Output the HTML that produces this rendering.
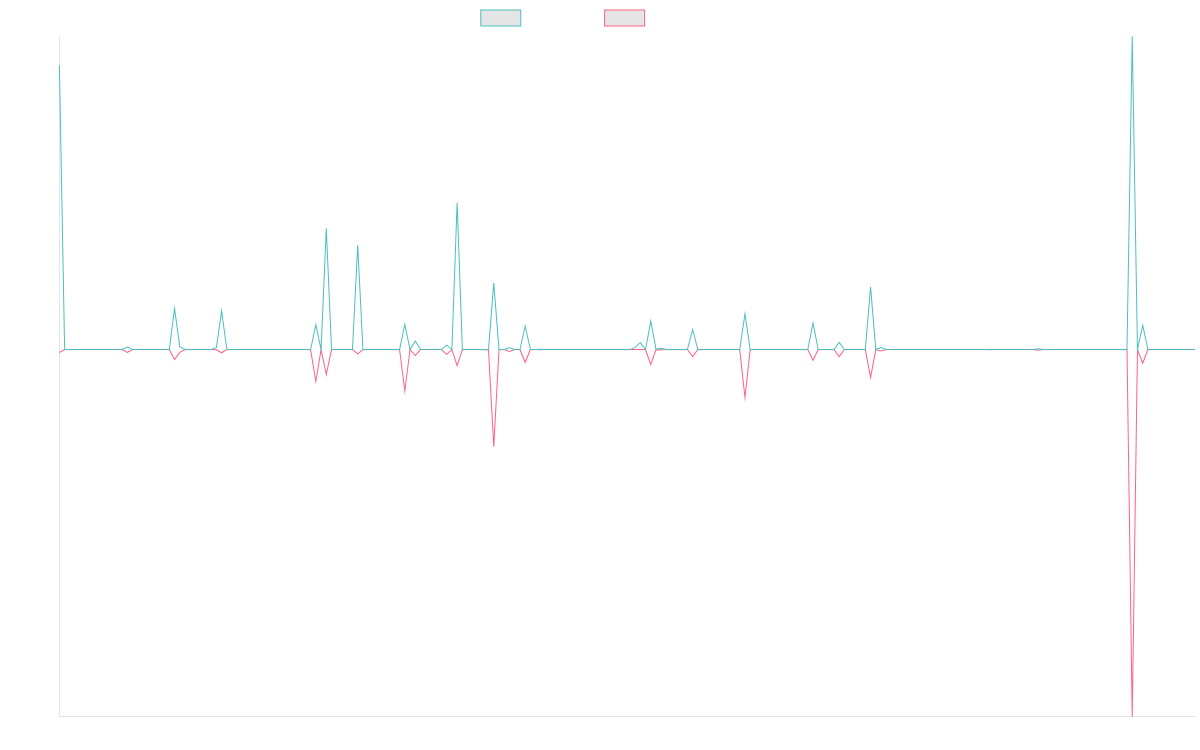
<!DOCTYPE html>
<html lang="en">
<head>
<meta charset="utf-8">
<title>Line chart</title>
<style>
html,body{margin:0;padding:0;background:#fff;}
body{width:1200px;height:750px;overflow:hidden;font-family:"Liberation Sans",sans-serif;}
svg{display:block;position:absolute;left:0;top:0;}
</style>
</head>
<body>
<svg width="1200" height="750" viewBox="0 0 1200 750" role="img" aria-label="Line chart with two datasets">
<defs><clipPath id="ca"><rect x="58.90" y="35.5" width="1136.63" height="681.5"/></clipPath></defs>
<rect width="1200" height="750" fill="#fff"/>
<g fill="#e5e5e5" stroke-width="1">
<rect x="480.75" y="10" width="40" height="16" stroke="#4bc0c0"/>
<rect x="604.58" y="10" width="40" height="16" stroke="#ff6384"/>
</g>
<g stroke="#e5e5e5" stroke-width="1" fill="none">
<line x1="59.5" y1="36" x2="59.5" y2="716.5"/>
<line x1="59" y1="716.5" x2="1196" y2="716.5"/>
</g>
<g fill="none" stroke-width="1.01" stroke-linejoin="miter" stroke-miterlimit="10" stroke-linecap="butt" clip-path="url(#ca)">
<g fill="#ff6384" stroke="none">
<rect x="64.63" y="349.06" width="57.57" height="1"/>
<rect x="132.67" y="349.06" width="36.63" height="1"/>
<rect x="185.00" y="349.06" width="26.17" height="1"/>
<rect x="226.87" y="349.06" width="83.73" height="1"/>
<rect x="331.53" y="349.06" width="20.93" height="1"/>
<rect x="362.93" y="349.06" width="36.63" height="1"/>
<rect x="420.50" y="349.06" width="20.93" height="1"/>
<rect x="462.37" y="349.06" width="20.93" height="1"/>
<rect x="499.00" y="349.06" width="5.23" height="1"/>
<rect x="514.70" y="349.06" width="5.23" height="1"/>
<rect x="530.40" y="349.06" width="5.23" height="1"/>
<rect x="546.10" y="349.06" width="99.43" height="1"/>
<rect x="666.46" y="349.06" width="20.93" height="1"/>
<rect x="697.86" y="349.06" width="41.87" height="1"/>
<rect x="750.20" y="349.06" width="57.57" height="1"/>
<rect x="818.23" y="349.06" width="15.70" height="1"/>
<rect x="844.40" y="349.06" width="20.93" height="1"/>
<rect x="886.26" y="349.06" width="99.43" height="1"/>
<rect x="996.16" y="349.06" width="36.63" height="1"/>
<rect x="1043.26" y="349.06" width="83.73" height="1"/>
<rect x="1147.93" y="349.06" width="47.10" height="1"/>
</g>
<g stroke="#ff6384">
<polyline points="59.40,352.50 64.63,349.56 66.13,349.56"/>
<polyline points="120.70,349.56 122.20,349.56 127.43,352.40 132.67,349.56 134.17,349.56"/>
<polyline points="167.80,349.56 169.30,349.56 174.53,359.50 179.77,352.40 185.00,349.56 186.50,349.56"/>
<polyline points="209.67,349.56 211.17,349.56 216.40,349.70 221.63,352.80 226.87,349.56 228.37,349.56"/>
<polyline points="309.10,349.56 310.60,349.56 315.83,381.50 321.07,349.56 326.30,374.60 331.53,349.56 333.03,349.56"/>
<polyline points="350.97,349.56 352.47,349.56 357.70,353.80 362.93,349.56 364.43,349.56"/>
<polyline points="398.07,349.56 399.57,349.56 404.80,391.00 410.03,349.56 415.27,355.50 420.50,349.56 422.00,349.56"/>
<polyline points="439.93,349.56 441.43,349.56 446.67,354.40 451.90,349.56 457.13,365.60 462.37,349.56 463.87,349.56"/>
<polyline points="481.80,349.56 483.30,349.56 488.53,350.10 493.77,446.80 499.00,349.56 500.50,349.56"/>
<polyline points="502.73,349.56 504.23,349.56 509.47,351.50 514.70,349.56 516.20,349.56"/>
<polyline points="518.43,349.56 519.93,349.56 525.17,362.30 530.40,349.56 531.90,349.56"/>
<polyline points="534.13,349.56 535.63,349.56 540.87,349.85 546.10,349.56 547.60,349.56"/>
<polyline points="644.03,349.56 645.53,349.56 650.76,364.40 656.00,349.65 661.23,350.10 666.46,349.56 667.96,349.56"/>
<polyline points="685.90,349.56 687.40,349.56 692.63,356.60 697.86,349.56 699.36,349.56"/>
<polyline points="738.23,349.56 739.73,349.56 744.96,397.50 750.20,349.56 751.70,349.56"/>
<polyline points="806.26,349.56 807.76,349.56 813.00,360.30 818.23,349.56 819.73,349.56"/>
<polyline points="832.43,349.56 833.93,349.56 839.16,356.60 844.40,349.56 845.90,349.56"/>
<polyline points="863.83,349.56 865.33,349.56 870.56,377.40 875.80,349.56 881.03,350.90 886.26,349.56 887.76,349.56"/>
<polyline points="984.20,349.56 985.70,349.56 990.93,349.85 996.16,349.56 997.66,349.56"/>
<polyline points="1031.30,349.56 1032.80,349.56 1038.03,350.35 1043.26,349.56 1044.76,349.56"/>
<polyline points="1125.50,349.56 1127.00,349.56 1132.23,716.75 1137.46,349.56 1142.70,363.30 1147.93,349.56 1149.43,349.56"/>
</g>
<g fill="#4bc0c0" stroke="none">
<rect x="64.63" y="349.06" width="57.57" height="1"/>
<rect x="132.67" y="349.06" width="36.63" height="1"/>
<rect x="185.00" y="349.06" width="26.17" height="1"/>
<rect x="226.87" y="349.06" width="83.73" height="1"/>
<rect x="331.53" y="349.06" width="20.93" height="1"/>
<rect x="362.93" y="349.06" width="36.63" height="1"/>
<rect x="420.50" y="349.06" width="20.93" height="1"/>
<rect x="462.37" y="349.06" width="20.93" height="1"/>
<rect x="499.00" y="349.06" width="5.23" height="1"/>
<rect x="514.70" y="349.06" width="5.23" height="1"/>
<rect x="530.40" y="349.06" width="5.23" height="1"/>
<rect x="546.10" y="349.06" width="83.73" height="1"/>
<rect x="666.46" y="349.06" width="20.93" height="1"/>
<rect x="697.86" y="349.06" width="41.87" height="1"/>
<rect x="750.20" y="349.06" width="57.57" height="1"/>
<rect x="818.23" y="349.06" width="15.70" height="1"/>
<rect x="844.40" y="349.06" width="20.93" height="1"/>
<rect x="886.26" y="349.06" width="99.43" height="1"/>
<rect x="996.16" y="349.06" width="36.63" height="1"/>
<rect x="1043.26" y="349.06" width="83.73" height="1"/>
<rect x="1147.93" y="349.06" width="47.10" height="1"/>
</g>
<g stroke="#4bc0c0">
<polyline points="59.40,65.50 64.63,349.56 66.13,349.56"/>
<polyline points="120.70,349.56 122.20,349.56 127.43,347.00 132.67,349.56 134.17,349.56"/>
<polyline points="167.80,349.56 169.30,349.56 174.53,308.40 179.77,346.60 185.00,349.56 186.50,349.56"/>
<polyline points="209.67,349.56 211.17,349.56 216.40,347.60 221.63,311.00 226.87,349.56 228.37,349.56"/>
<polyline points="309.10,349.56 310.60,349.56 315.83,324.70 321.07,349.56 326.30,228.20 331.53,349.56 333.03,349.56"/>
<polyline points="350.97,349.56 352.47,349.56 357.70,245.20 362.93,349.56 364.43,349.56"/>
<polyline points="398.07,349.56 399.57,349.56 404.80,324.50 410.03,349.56 415.27,341.00 420.50,349.56 422.00,349.56"/>
<polyline points="439.93,349.56 441.43,349.56 446.67,345.10 451.90,349.56 457.13,202.80 462.37,349.56 463.87,349.56"/>
<polyline points="481.80,349.56 483.30,349.56 488.53,349.30 493.77,283.10 499.00,349.56 500.50,349.56"/>
<polyline points="502.73,349.56 504.23,349.56 509.47,347.80 514.70,349.56 516.20,349.56"/>
<polyline points="518.43,349.56 519.93,349.56 525.17,326.20 530.40,349.56 531.90,349.56"/>
<polyline points="534.13,349.56 535.63,349.56 540.87,349.35 546.10,349.56 547.60,349.56"/>
<polyline points="628.33,349.56 629.83,349.56 635.06,347.60 640.30,342.40 645.53,349.56 650.76,321.10 656.00,349.30 661.23,348.30 666.46,349.56 667.96,349.56"/>
<polyline points="685.90,349.56 687.40,349.56 692.63,329.40 697.86,349.56 699.36,349.56"/>
<polyline points="738.23,349.56 739.73,349.56 744.96,313.90 750.20,349.56 751.70,349.56"/>
<polyline points="806.26,349.56 807.76,349.56 813.00,323.20 818.23,349.56 819.73,349.56"/>
<polyline points="832.43,349.56 833.93,349.56 839.16,342.40 844.40,349.56 845.90,349.56"/>
<polyline points="863.83,349.56 865.33,349.56 870.56,287.00 875.80,349.56 881.03,347.60 886.26,349.56 887.76,349.56"/>
<polyline points="984.20,349.56 985.70,349.56 990.93,349.40 996.16,349.56 997.66,349.56"/>
<polyline points="1031.30,349.56 1032.80,349.56 1038.03,348.75 1043.26,349.56 1044.76,349.56"/>
<polyline points="1125.50,349.56 1127.00,349.56 1132.23,36.20 1137.46,349.56 1142.70,325.10 1147.93,349.56 1149.43,349.56"/>
</g>
</g>
</svg>
</body>
</html>
